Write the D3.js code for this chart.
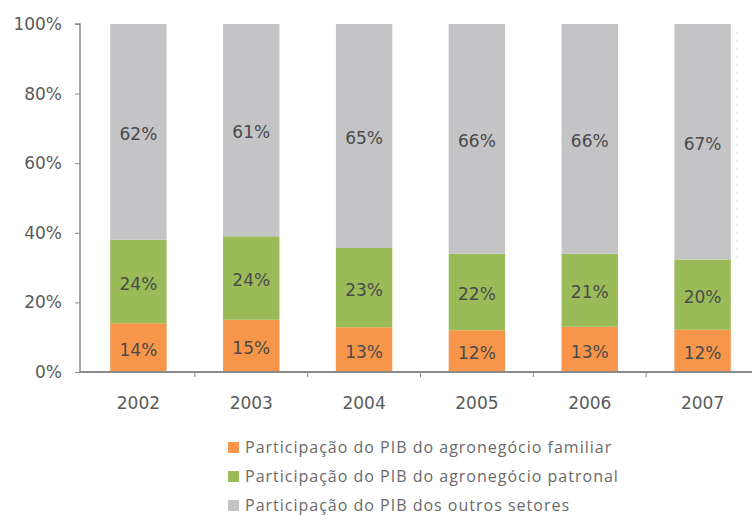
<!DOCTYPE html>
<html>
<head>
<meta charset="utf-8">
<script src="https://cdn.jsdelivr.net/npm/d3@7"></script>
<style>
  body { margin: 0; background: #fff; }
  .axis path, .axis line { stroke: #8a8a8a; }
  .axis text { font-family: "DejaVu Sans", sans-serif; font-size: 17px; fill: #5a5a5a; }
  .seg-label { font-family: "DejaVu Sans", sans-serif; font-size: 17px; fill: #4a4a4a; text-anchor: middle; }
  .legend text { font-family: "Open Sans", sans-serif; font-size: 16px; letter-spacing: 1px; fill: #6a6a6a; }
</style>
</head>
<body>
<div id="chart"></div>
<script>
// data
const years = ["2002", "2003", "2004", "2005", "2006", "2007"];
const familiar = [14, 15, 13, 12, 13, 12];
const patronal = [24, 24, 23, 22, 21, 20];
const outros = [62, 61, 65, 66, 66, 67];
const seriesNames = [
    "Participação do PIB do agronegócio familiar",
    "Participação do PIB do agronegócio patronal",
    "Participação do PIB dos outros setores"
];
const yTicks = [0, 20, 40, 60, 80, 100];

const width = 752, height = 515;
const colors = ["#f7964a", "#9bbb59", "#c4c4c6"];
const margin = {top: 24, left: 80, right: -3, bottom: 143};
const mainHeight = height - margin.top - margin.bottom;
const mainWidth = width - margin.left - margin.right;

const svg = d3.select("#chart").append("svg")
    .attr("width", width)
    .attr("height", height);

const mainChart = svg.append("g")
    .attr("transform", `translate(${margin.left} ${margin.top})`);

const keys = ["familiar", "patronal", "outros"];
const table = years.map((yr, i) => ({
    year: yr, familiar: familiar[i], patronal: patronal[i], outros: outros[i]
}));

// columns are shares of 100%, rounding makes some sum to 99 or 101
const stacked = d3.stack().keys(keys).offset(d3.stackOffsetExpand)(table);

const x = d3.scaleBand()
    .domain(years)
    .range([2, mainWidth + 4])
    .paddingInner(0.5)
    .paddingOuter(0.25);

const y = d3.scaleLinear()
    .domain([0, 1])
    .range([mainHeight, 0]);

// faint dotted mark along the right edge of the original
svg.append("line")
    .attr("x1", 737).attr("x2", 737)
    .attr("y1", margin.top + 8).attr("y2", y(0.33) + margin.top)
    .attr("stroke", "#cfcfd6")
    .attr("stroke-dasharray", "2 6");

// bars
const layers = mainChart.selectAll(".layer")
    .data(stacked)
    .join("g")
    .attr("class", "layer")
    .attr("fill", (d, i) => colors[i]);

layers.selectAll("rect")
    .data(d => d)
    .join("rect")
    .attr("x", d => x(d.data.year))
    .attr("y", d => y(d[1]))
    .attr("width", x.bandwidth())
    .attr("height", d => y(d[0]) - y(d[1]));

layers.selectAll("text")
    .data((d, i) => d.map(s => ({s, key: keys[i]})))
    .join("text")
    .attr("class", "seg-label")
    .attr("x", d => x(d.s.data.year) + x.bandwidth() / 2)
    .attr("y", d => (y(d.s[0]) + y(d.s[1])) / 2 + 2)
    .attr("dy", "0.36em")
    .text(d => d.s.data[d.key] + "%");

// y axis
const yAxis = mainChart.append("g")
    .attr("class", "axis")
    .call(d3.axisLeft(y).tickValues(yTicks.map(v => v / 100))
        .tickFormat(v => Math.round(v * 100) + "%").tickSize(5).tickPadding(13));
yAxis.select(".domain").attr("d", `M0,${mainHeight}V0H-5`).attr("stroke-width", 1.5);

// x axis: labels at centres, ticks at category edges
const xAxis = mainChart.append("g")
    .attr("class", "axis")
    .attr("transform", `translate(0 ${mainHeight})`)
    .call(d3.axisBottom(x).tickSize(0).tickPadding(25));
xAxis.select(".domain").attr("d", `M0,0H${mainWidth}`).attr("stroke-width", 2);

xAxis.selectAll(".edge")
    .data(years.slice(1))
    .join("line")
    .attr("class", "edge")
    .attr("x1", d => x(d) - x.step() * x.paddingInner() / 2)
    .attr("x2", d => x(d) - x.step() * x.paddingInner() / 2)
    .attr("y1", 0)
    .attr("y2", 5);

// legend
const legend = svg.append("g")
    .attr("class", "legend")
    .attr("transform", "translate(228 447.5)");

legend.selectAll("rect")
    .data(seriesNames)
    .join("rect")
    .attr("x", 0)
    .attr("y", (d, i) => i * 29 - 5.5)
    .attr("width", 11)
    .attr("height", 11)
    .attr("fill", (d, i) => colors[i]);

legend.selectAll("text")
    .data(seriesNames)
    .join("text")
    .attr("x", 17)
    .attr("y", (d, i) => i * 29)
    .attr("dy", "0.36em")
    .text(d => d);
</script>
</body>
</html>
